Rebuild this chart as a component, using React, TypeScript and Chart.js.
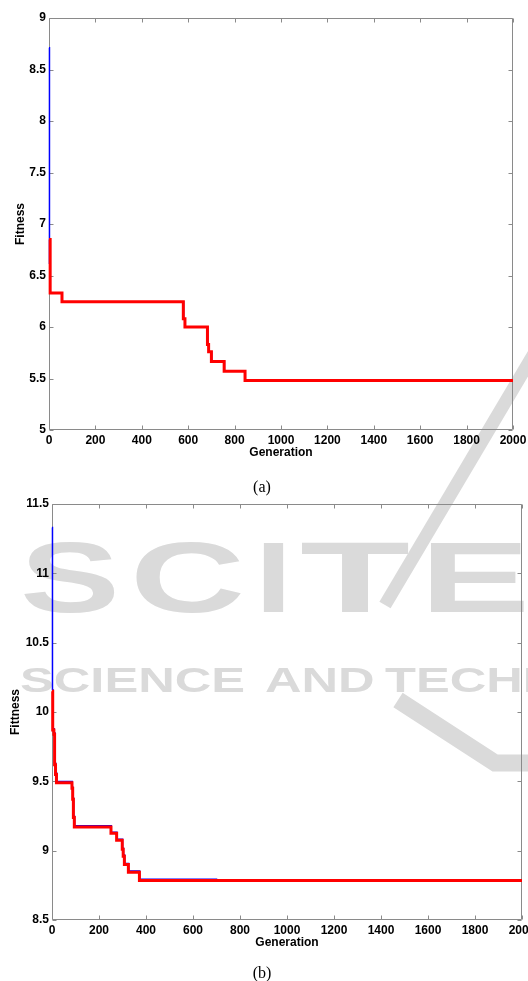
import React, { useEffect, useRef } from 'react';
import { Chart, registerables } from 'chart.js';

Chart.register(...registerables);

// ---------- data ----------
const xTicks = [0, 200, 400, 600, 800, 1000, 1200, 1400, 1600, 1800, 2000];
const yTicksA = [5, 5.5, 6, 6.5, 7, 7.5, 8, 8.5, 9];
const yTicksB = [8.5, 9, 9.5, 10, 10.5, 11, 11.5];

// chart (a)
const genA_red = [0, 5, 56, 579, 586, 683, 688, 700, 755, 845, 2000];
const fitA_red = [6.85, 6.33, 6.245, 6.08, 6.0, 5.83, 5.76, 5.665, 5.57, 5.48, 5.48];
const genA_blue = [0, 2, 5, 56, 580, 587, 684, 689, 701, 756, 846, 2000];
const fitA_blue = [8.71, 6.62, 6.33, 6.245, 6.08, 6.0, 5.83, 5.76, 5.665, 5.57, 5.48, 5.48];

// chart (b)
const genB_red = [0, 3, 8, 11, 15, 19, 85, 88, 91, 95, 251, 275, 299, 303, 308, 325, 372, 2000];
const fitB_red = [10.15, 9.87, 9.84, 9.62, 9.55, 9.49, 9.45, 9.37, 9.24, 9.17, 9.125, 9.075, 9.01, 8.96, 8.9, 8.845, 8.785, 8.785];
const genB_blue = [0, 2, 4, 9, 12, 16, 20, 86, 89, 92, 96, 252, 276, 300, 304, 309, 326, 373, 700, 2000];
const fitB_blue = [11.33, 10.16, 9.88, 9.85, 9.63, 9.56, 9.498, 9.458, 9.378, 9.248, 9.179, 9.133, 9.083, 9.018, 8.968, 8.908, 8.853, 8.793, 8.785, 8.785];

// ---------- styles ----------
const FONT = "'Liberation Sans', Arial, sans-serif";
const AXIS = '#8a8a8a';
const WM = '#dadada';

const toPts = (g: number[], f: number[]) => g.map((x, i) => ({ x, y: f[i] }));

function drawWide(ctx: CanvasRenderingContext2D, text: string, x: number, base: number, size: number, sx: number) {
  ctx.font = `bold ${size}px ${FONT}`;
  ctx.save();
  ctx.translate(x, base);
  ctx.scale(sx, 1);
  ctx.fillText(text, 0, 0);
  ctx.restore();
}

function watermark(offsetY: number) {
  return {
    id: 'wm',
    beforeDraw(chart: any) {
      const ctx: CanvasRenderingContext2D = chart.ctx;
      ctx.save();
      ctx.translate(0, -offsetY);
      ctx.fillStyle = WM;
      ctx.strokeStyle = WM;
      ctx.textBaseline = 'alphabetic';
      // diagonal stripe
      ctx.lineWidth = 13;
      ctx.beginPath();
      ctx.moveTo(548, 330);
      ctx.lineTo(385, 605);
      ctx.stroke();
      // big letters
      const big = 100;
      const letters: [string, number, number][] = [
        ['S', 20, 100], ['C', 130, 115], ['I', 255, 37], ['T', 300, 110], ['E', 420, 110],
      ];
      letters.forEach(([t, x, w]) => {
        ctx.font = `bold ${big}px ${FONT}`;
        const m = ctx.measureText(t).width;
        drawWide(ctx, t, x, 612, big, w / m);
      });
      // small text row
      const small = 35;
      ctx.font = `bold ${small}px ${FONT}`;
      const sx = 225 / ctx.measureText('SCIENCE').width;
      drawWide(ctx, 'SCIENCE', 20, 692, small, sx);
      drawWide(ctx, 'AND', 265, 692, small, sx);
      drawWide(ctx, 'TECHNOLOGY', 385, 692, small, sx);
      // chevron
      ctx.lineWidth = 17;
      ctx.lineJoin = 'miter';
      ctx.beginPath();
      ctx.moveTo(398, 700);
      ctx.lineTo(495, 763);
      ctx.lineTo(545, 763);
      ctx.stroke();
      ctx.restore();
    },
  };
}

const frame = {
  id: 'frame',
  beforeDatasetsDraw(chart: any) {
    const { ctx, chartArea } = chart;
    const xs = chart.scales.x;
    const ys = chart.scales.y;
    const L = Math.round(chartArea.left) + 0.5;
    const R = Math.round(chartArea.right) - 0.5;
    const T = Math.round(chartArea.top) + 0.5;
    const B = Math.round(chartArea.bottom) - 0.5;
    ctx.save();
    ctx.strokeStyle = AXIS;
    ctx.lineWidth = 1;
    ctx.beginPath();
    ctx.rect(L, T, R - L, B - T);
    xs.ticks.forEach((t: any) => {
      const p = Math.round(xs.getPixelForValue(t.value)) + 0.5;
      ctx.moveTo(p, B); ctx.lineTo(p, B - 4);
      ctx.moveTo(p, T); ctx.lineTo(p, T + 4);
    });
    ys.ticks.forEach((t: any) => {
      const p = Math.round(ys.getPixelForValue(t.value)) + 0.5;
      ctx.moveTo(L, p); ctx.lineTo(L + 4, p);
      ctx.moveTo(R, p); ctx.lineTo(R - 4, p);
    });
    ctx.stroke();
    ctx.restore();
  },
};

interface Spec {
  red: { x: number; y: number }[];
  blue: { x: number; y: number }[];
  yTicks: number[];
  yTitle: string;
  yTitlePad: number;
  yWidth: number;
  padding: { left: number; right: number; top: number; bottom: number };
  offsetY: number;
}

function makeConfig(s: Spec): any {
  const tickFont = { family: FONT, size: 12, weight: 'bold' as const };
  const zeroPad = (scale: any) => {
    scale.paddingLeft = 0;
    scale.paddingRight = 0;
    scale.paddingTop = 0;
    scale.paddingBottom = 0;
  };
  return {
    type: 'line',
    data: {
      datasets: [
        { data: s.red, borderColor: '#ff0000', borderWidth: 3, pointRadius: 0, stepped: 'before', fill: false, clip: false },
        { data: s.blue, borderColor: '#0000ff', borderWidth: 1.5, pointRadius: 0, stepped: 'before', fill: false, clip: false },
      ],
    },
    options: {
      animation: false,
      responsive: false,
      events: [],
      layout: { padding: s.padding },
      plugins: { legend: { display: false }, tooltip: { enabled: false } },
      scales: {
        x: {
          type: 'linear',
          min: xTicks[0],
          max: xTicks[xTicks.length - 1],
          afterBuildTicks: (scale: any) => { scale.ticks = xTicks.map((v) => ({ value: v })); },
          afterFit: (scale: any) => { scale.height = 30; zeroPad(scale); },
          grid: { display: false, drawTicks: false },
          border: { display: false },
          ticks: { color: '#000', font: tickFont, padding: 3, maxRotation: 0, autoSkip: false, callback: (v: any) => String(v) },
          title: { display: true, text: 'Generation', color: '#000', font: tickFont, padding: { top: 0, bottom: 0 } },
        },
        y: {
          type: 'linear',
          min: s.yTicks[0],
          max: s.yTicks[s.yTicks.length - 1],
          afterBuildTicks: (scale: any) => { scale.ticks = s.yTicks.map((v) => ({ value: v })); },
          afterFit: (scale: any) => { scale.width = s.yWidth; zeroPad(scale); },
          grid: { display: false, drawTicks: false },
          border: { display: false },
          ticks: { color: '#000', font: tickFont, padding: 3, autoSkip: false, callback: (v: any) => String(v) },
          title: { display: true, text: s.yTitle, color: '#000', font: tickFont, padding: { top: s.yTitlePad, bottom: 0 } },
        },
      },
    },
    plugins: [watermark(s.offsetY), frame],
  };
}

function ChartCanvas({ spec, top, width, height }: { spec: Spec; top: number; width: number; height: number }) {
  const ref = useRef<HTMLCanvasElement>(null);
  useEffect(() => {
    const c = new Chart(ref.current as HTMLCanvasElement, makeConfig(spec));
    return () => c.destroy();
  }, []);
  return (
    <canvas
      ref={ref}
      width={width}
      height={height}
      style={{ position: 'absolute', left: 0, top, width, height, display: 'block' }}
    />
  );
}

const specA: Spec = {
  red: toPts(genA_red, fitA_red),
  blue: toPts(genA_blue, fitA_blue),
  yTicks: yTicksA,
  yTitle: 'Fitness',
  yTitlePad: 13,
  yWidth: 49,
  padding: { left: 0, right: 15, top: 18, bottom: 30 },
  offsetY: 0,
};

const specB: Spec = {
  red: toPts(genB_red, fitB_red),
  blue: toPts(genB_blue, fitB_blue),
  yTicks: yTicksB,
  yTitle: 'Fittness',
  yTitlePad: 8,
  yWidth: 52,
  padding: { left: 0, right: 38, top: 14, bottom: 31 },
  offsetY: 490,
};

const captionStyle = (top: number): React.CSSProperties => ({
  position: 'absolute',
  left: 0,
  width: 524,
  top,
  height: 20,
  lineHeight: '20px',
  textAlign: 'center',
  fontFamily: "'Liberation Serif', 'Times New Roman', serif",
  fontSize: 16,
  color: '#000',
  zIndex: 2,
});

export default function App() {
  return (
    <div
      style={{
        position: 'fixed',
        left: 0,
        top: 0,
        width: 528,
        height: 981,
        overflow: 'hidden',
        background: '#fff',
      }}
    >
      <ChartCanvas spec={specA} top={0} width={528} height={490} />
      <ChartCanvas spec={specB} top={490} width={560} height={491} />
      <div style={captionStyle(477)}>(a)</div>
      <div style={captionStyle(963)}>(b)</div>
    </div>
  );
}
